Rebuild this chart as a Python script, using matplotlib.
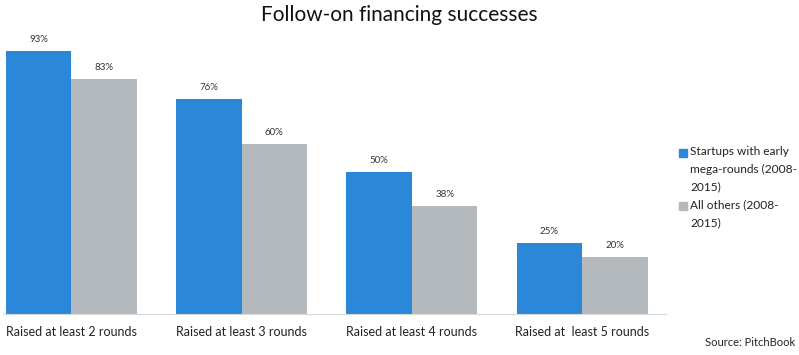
import matplotlib.pyplot as plt
import numpy as np
from matplotlib.patches import Rectangle

plt.rcParams['font.family'] = ['Lato', 'DejaVu Sans']

categories = ["Raised at least 2 rounds", "Raised at least 3 rounds",
              "Raised at least 4 rounds", "Raised at  least 5 rounds"]
mega = [93, 76, 50, 25]
others = [83, 60, 38, 20]
series_names = ["Startups with early\nmega-rounds (2008-\n2015)",
                "All others (2008-\n2015)"]

BLUE = "#2B88D8"
GRAY = "#B4B9BE"

fig = plt.figure(figsize=(7.99, 3.55), dpi=100)
ax = fig.add_axes([0.004, 0.1155, 0.829, 0.7975])

x = np.arange(len(categories))
w = 0.385
b1 = ax.bar(x - w / 2, mega, w, color=BLUE)
b2 = ax.bar(x + w / 2, others, w, color=GRAY)

for bars, vals in ((b1, mega), (b2, others)):
    for r, v in zip(bars, vals):
        ax.text(r.get_x() + r.get_width() / 2, v + 2.5, f"{v}%",
                ha="center", va="bottom", fontsize=7, color="#333333")

ax.set_xlim(-0.4, 3.49)
ax.set_ylim(0, 100)
ax.set_yticks([])
ax.set_xticks(x)
ax.set_xticklabels(categories, fontsize=9, color="#222222")
ax.tick_params(axis="x", length=0, pad=9)
for s in ("top", "right", "left"):
    ax.spines[s].set_visible(False)
ax.spines["bottom"].set_color("#D9D9D9")

fig.suptitle("Follow-on financing successes", y=0.985, fontsize=15, color="#111111")

# legend drawn by hand so the square sits on the first text line
W, H = 799, 355
line_h = 17.8
y0 = 153  # center of first legend line, in pixels from top
row = 0
for name, col in zip(series_names, [BLUE, GRAY]):
    yc = y0 + row * line_h
    fig.patches.append(Rectangle((679 / W, 1 - (yc + 4) / H), 8 / W, 8 / H,
                                 transform=fig.transFigure, color=col))
    fig.text(690 / W, 1 - (yc - 7) / H, name, ha="left", va="top", fontsize=8.6,
             color="#222222", linespacing=1.72)
    row += name.count("\n") + 1

fig.text(0.995, 0.02, "Source: PitchBook", ha="right", va="bottom", fontsize=8,
         color="#222222")

fig.savefig("out.png", dpi=100)
